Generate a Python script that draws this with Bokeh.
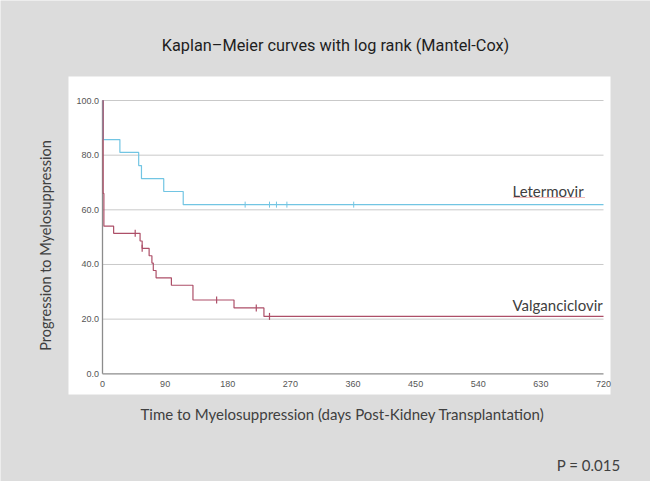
import numpy as np
from bokeh.plotting import figure
from bokeh.models import Range1d, Label, BoxAnnotation
from bokeh.core.properties import value
from bokeh.embed import file_html
from bokeh.resources import INLINE

# ---- data ----
leter_times = [0, 1, 25, 52, 56, 88, 116, 720]
leter_surv = [100.0, 85.7, 81.0, 76.2, 71.4, 66.7, 61.9, 61.9]
leter_cens_t = [205, 240, 250, 265, 361]
leter_cens_s = [61.9, 61.9, 61.9, 61.9, 61.9]

valg_times = [0, 1, 2, 16, 54, 57, 67, 71, 73, 77, 99, 130, 189, 232, 720]
valg_surv = [100.0, 66.0, 54.0, 51.4, 48.6, 45.9, 43.2, 40.5, 37.8, 35.1, 32.4, 27.0, 24.1, 21.0, 21.0]
valg_cens_t = [47, 57, 164, 221, 240]
valg_cens_s = [51.4, 45.9, 27.0, 24.1, 21.0]

x_ticks = [0, 90, 180, 270, 360, 450, 540, 630, 720]
x_tick_labels = ["0", "90", "180", "270", "360", "450", "540", "630", "720"]
y_ticks = [0, 20, 40, 60, 80, 100]
y_tick_labels = ["0.0", "20.0", "40.0", "60.0", "80.0", "100.0"]

title_text = "Kaplan\u2013Meier curves with log rank (Mantel-Cox)"
xlabel_text = "Time to Myelosuppression (days Post-Kidney Transplantation)"
ylabel_text = "Progression to Myelosuppression"
p_text = "P = 0.015"

# ---- layout (pixels) ----
W, H = 650, 481
FL, FR, FT, FB = 68, 610, 76, 394      # white panel
AX0, AX1 = 102, 603                      # x=0 and x=720 on screen
AY0, AY1 = 373.3, 100                    # y=0 and y=100 on screen

kx = (AX1 - AX0) / 720.0
ky = (AY0 - AY1) / 100.0
def dx(sx):
    return (sx - AX0) / kx
def dy(sy):
    return (AY0 - sy) / ky

p = figure(width=W, height=H, output_backend="svg", toolbar_location=None,
           x_range=Range1d(dx(0), dx(W)), y_range=Range1d(dy(H), dy(0)),
           min_border=0)
p.background_fill_color = "#dcdcdc"
p.border_fill_color = "#dcdcdc"
p.outline_line_color = None
p.xaxis.visible = False
p.yaxis.visible = False
p.xgrid.visible = False
p.ygrid.visible = False

p.add_layout(BoxAnnotation(left=dx(FL), right=dx(FR), top=dy(FT), bottom=dy(FB),
                           fill_color="white", fill_alpha=1.0, line_color=None, level="underlay"))

grid_col = "#c9c9c9"
axis_col = "#8c8c8c"
gy = [t for t in y_ticks if t > 0]
p.segment(x0=[0] * len(gy), x1=[720] * len(gy), y0=gy, y1=gy, line_color=grid_col, line_width=1)
p.segment(x0=[0, 0], x1=[0, 720], y0=[0, 0], y1=[100, 0], line_color=axis_col, line_width=1.3)

blue = "#72c5e3"
red = "#ad4f68"
p.step(leter_times, leter_surv, mode="after", line_color=blue, line_width=1.2)
p.step(valg_times, valg_surv, mode="after", line_color=red, line_width=1.2)
p.scatter(leter_cens_t, leter_cens_s, marker="dash", angle=np.pi / 2, size=6,
          line_color=blue, line_width=1)
p.scatter(valg_cens_t, valg_cens_s, marker="dash", angle=np.pi / 2, size=7,
          line_color=red, line_width=1.2)

tick_font = value("Liberation Sans")
p.text(x=[dx(98.5)] * len(y_ticks), y=y_ticks, text=y_tick_labels, text_align="right",
       text_baseline="middle", text_font=tick_font, text_font_size="9px", text_color="#555555")
p.text(x=x_ticks, y=[dy(383)] * len(x_ticks), text=x_tick_labels, text_align="center",
       text_baseline="middle", text_font=tick_font, text_font_size="9px", text_color="#555555")

p.add_layout(Label(x=dx(512), y=dy(190), text="Letermovir", text_align="left", text_baseline="middle",
                   text_font="Lato", text_font_size="15px", text_color="#404040"))
p.segment(x0=[dx(513)], x1=[dx(584)], y0=[dy(197)], y1=[dy(197)], line_color="#e07070",
          line_width=1, line_dash="1 1")
p.add_layout(Label(x=dx(512), y=dy(304), text="Valganciclovir", text_align="left", text_baseline="middle",
                   text_font="Lato", text_font_size="15px", text_color="#404040"))

p.add_layout(Label(x=dx(335), y=dy(45), text=title_text, text_align="center", text_baseline="middle",
                   text_font="Roboto", text_font_size="16.3px", text_color="#1e1e1e"))
p.add_layout(Label(x=dx(342), y=dy(413), text=xlabel_text, text_align="center", text_baseline="middle",
                   text_font="Lato", text_font_size="15px", text_color="#404040"))
p.add_layout(Label(x=dx(45), y=dy(245), text=ylabel_text, text_align="center", text_baseline="middle",
                   angle=np.pi / 2, text_font="Lato", text_font_size="14.5px", text_color="#404040"))
p.add_layout(Label(x=dx(620), y=dy(464), text=p_text, text_align="right", text_baseline="middle",
                   text_font="Lato", text_font_size="15px", text_color="#404040"))

open("out.html", "w").write(file_html(p, INLINE))
